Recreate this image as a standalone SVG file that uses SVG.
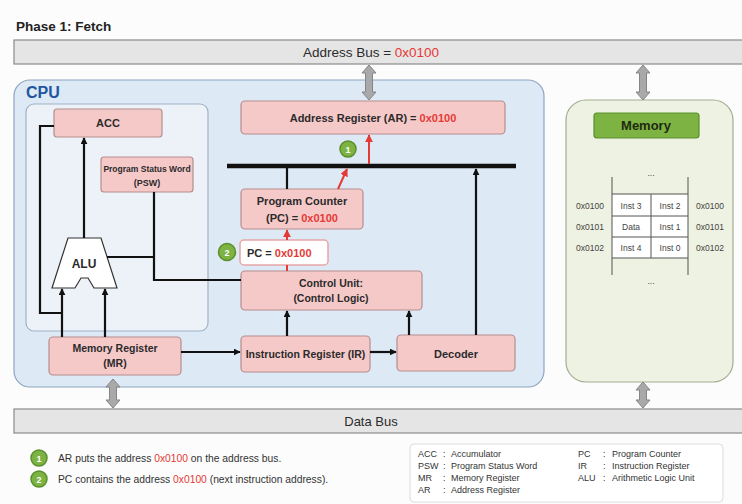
<svg xmlns="http://www.w3.org/2000/svg" width="742" height="504" viewBox="0 0 742 504">
<defs>
<style>
text{font-family:"Liberation Sans",Arial,sans-serif;fill:#2b2b2b}
.t{font-size:10.5px;font-weight:bold;text-anchor:middle}
.r{fill:#e53935}
.box{fill:#f6c9c9;stroke:#b58e8e;stroke-width:1.2}
.bus{fill:#e5e5e5;stroke:#8a8a8a;stroke-width:1.2}
.dbl{fill:#a9a9a9;stroke:#858585;stroke-width:1}
.ln{fill:none;stroke:#111;stroke-width:2.2}
.rl{fill:none;stroke:#e53935;stroke-width:2}
.gc{fill:#7cb342;stroke:#5a8f2c;stroke-width:1.5}
.gt{fill:#fff;font-size:9px;font-weight:bold;text-anchor:middle}
.mem{font-size:8.5px;text-anchor:middle;fill:#444}
.lg{font-size:9px;fill:#333}
</style>
<marker id="ah" viewBox="0 0 10 10" refX="9" refY="5" markerWidth="7" markerHeight="7" markerUnits="userSpaceOnUse" orient="auto"><path d="M0,0 L10,5 L0,10 Z" fill="#111"/></marker>
<marker id="ahr" viewBox="0 0 10 10" refX="9" refY="5" markerWidth="8" markerHeight="8" markerUnits="userSpaceOnUse" orient="auto"><path d="M0,0 L10,5 L0,10 Z" fill="#e53935"/></marker>
</defs>
<rect width="742" height="504" fill="#fcfcfc"/>
<text x="16" y="31" style="font-size:13.5px;font-weight:bold;fill:#222">Phase 1: Fetch</text>

<g id="address-bus">
<rect class="bus" x="14" y="40" width="740" height="24"/>
<text x="371" y="56.5" style="font-size:13.5px;text-anchor:middle">Address Bus = <tspan class="r">0x0100</tspan></text>
</g>

<g id="cpu">
<rect x="14" y="80" width="530" height="307" rx="16" fill="#dde9f5" stroke="#8ea6c0" stroke-width="1.2"/>
<text x="26" y="98" style="font-size:16px;font-weight:bold;fill:#2155a0">CPU</text>
<rect x="26" y="104" width="182" height="227" rx="8" fill="#edf2f8" stroke="#9fb2c8" stroke-width="1.2"/>
</g>

<g id="memory">
<rect x="566" y="100" width="167" height="282" rx="20" fill="#eef2e2" stroke="#a3ad90" stroke-width="1.2"/>
<rect x="594" y="113" width="105" height="25" rx="3" fill="#7cb342" stroke="#5a8f2c" stroke-width="1.2"/>
<text x="646" y="130" style="font-size:13px;font-weight:bold;text-anchor:middle;fill:#1e2a10">Memory</text>
<rect x="612" y="194" width="76" height="64" fill="#fff"/>
<path d="M612,177 V275 M688,177 V275 M612,194 H688 M612,216 H688 M612,237 H688 M612,258 H688 M651,194 V258" fill="none" stroke="#555" stroke-width="1"/>
<text class="mem" x="651" y="176">...</text>
<text class="mem" x="651" y="284">...</text>
<text class="mem" x="631" y="208.5">Inst 3</text><text class="mem" x="670" y="208.5">Inst 2</text>
<text class="mem" x="631" y="229.5">Data</text><text class="mem" x="670" y="229.5">Inst 1</text>
<text class="mem" x="631" y="250.5">Inst 4</text><text class="mem" x="670" y="250.5">Inst 0</text>
<text class="mem" x="590" y="208.5">0x0100</text><text class="mem" x="710" y="208.5">0x0100</text>
<text class="mem" x="590" y="229.5">0x0101</text><text class="mem" x="710" y="229.5">0x0101</text>
<text class="mem" x="590" y="250.5">0x0102</text><text class="mem" x="710" y="250.5">0x0102</text>
</g>

<g id="data-bus">
<rect class="bus" x="14" y="409" width="740" height="24"/>
<text x="371" y="425.5" style="font-size:13px;text-anchor:middle">Data Bus</text>
</g>

<g id="acc"><rect class="box" x="54" y="109" width="108" height="28" rx="3"/><text class="t" x="108" y="127" style="font-size:11px">ACC</text></g>
<g id="psw"><rect class="box" x="101" y="157" width="92" height="35" rx="3"/><text class="t" x="147" y="172" style="font-size:8.5px">Program Status Word</text><text class="t" x="147" y="185.5" style="font-size:9px">(PSW)</text></g>
<g id="alu"><path d="M68,238 L101,238 L117,288 L94,288 L88,278 L81,278 L75,288 L52,288 Z" fill="#fff" stroke="#333" stroke-width="1.2"/><text class="t" x="84" y="268" style="font-size:12px">ALU</text></g>
<g id="ar"><rect class="box" x="241" y="101" width="264" height="33" rx="4"/><text class="t" x="373" y="121.5" style="font-size:11px">Address Register (AR) = <tspan class="r">0x0100</tspan></text></g>
<g id="pc"><rect class="box" x="241" y="189" width="122" height="40" rx="4"/><text class="t" x="302" y="205" style="font-size:11px">Program Counter</text><text class="t" x="302" y="221.5" style="font-size:11px">(PC) = <tspan class="r">0x0100</tspan></text></g>
<g id="pc-value"><rect x="240" y="240" width="88" height="25" rx="4" fill="#fff" stroke="#e8a5a5" stroke-width="1.5"/><text x="247" y="257" style="font-size:11px;font-weight:bold">PC = <tspan class="r">0x0100</tspan></text></g>
<g id="control-unit"><rect class="box" x="241" y="271" width="181" height="39" rx="4"/><text class="t" x="331" y="287">Control Unit:</text><text class="t" x="331" y="302">(Control Logic)</text></g>
<g id="mr"><rect class="box" x="49" y="337" width="132" height="38" rx="4"/><text class="t" x="115" y="352">Memory Register</text><text class="t" x="115" y="367">(MR)</text></g>
<g id="ir"><rect class="box" x="241" y="336" width="129" height="36" rx="4"/><text class="t" x="305.5" y="357.5">Instruction Register (IR)</text></g>
<g id="decoder"><rect class="box" x="397" y="335" width="118" height="36" rx="4"/><text class="t" x="456" y="357.5" style="font-size:11px">Decoder</text></g>

<g id="connectors">
<path class="dbl" d="M369,65 L376,73 L372.5,73 L372.5,92 L376,92 L369,100 L362,92 L365.5,92 L365.5,73 L362,73 Z"/>
<path class="dbl" d="M643,65 L650,73 L646.5,73 L646.5,92 L650,92 L643,100 L636,92 L639.5,92 L639.5,73 L636,73 Z"/>
<path class="dbl" d="M113,379 L120,387 L116.5,387 L116.5,400 L120,400 L113,408 L106,400 L109.5,400 L109.5,387 L106,387 Z"/>
<path class="dbl" d="M643,382 L650,390 L646.5,390 L646.5,400 L650,400 L643,408 L636,400 L639.5,400 L639.5,390 L636,390 Z"/>
<line x1="227" y1="166" x2="516" y2="166" stroke="#111" stroke-width="4.5"/>
<polyline class="ln" points="54,126 40,126 40,313 62,313"/>
<line class="ln" x1="84" y1="238" x2="84" y2="138" marker-end="url(#ah)"/>
<line class="ln" x1="62" y1="337" x2="62" y2="289" marker-end="url(#ah)"/>
<line class="ln" x1="105" y1="337" x2="105" y2="289" marker-end="url(#ah)"/>
<polyline class="ln" points="154,192 154,280 241,280"/>
<line class="ln" x1="107" y1="257" x2="154" y2="257"/>
<line class="ln" x1="181" y1="352" x2="240" y2="352" marker-end="url(#ah)"/>
<line class="ln" x1="370" y1="352" x2="396" y2="352" marker-end="url(#ah)"/>
<line class="ln" x1="287" y1="336" x2="287" y2="311" marker-end="url(#ah)"/>
<line class="ln" x1="409" y1="335" x2="409" y2="311" marker-end="url(#ah)"/>
<line class="ln" x1="476" y1="335" x2="476" y2="169" marker-end="url(#ah)"/>
<line class="ln" x1="287" y1="166" x2="287" y2="189"/>
<line class="rl" x1="369" y1="164" x2="369" y2="135" marker-end="url(#ahr)"/>
<line class="rl" x1="338" y1="189" x2="347" y2="169" marker-end="url(#ahr)"/>
<line class="rl" x1="287" y1="271" x2="287" y2="265"/>
<line class="rl" x1="287" y1="240" x2="287" y2="230" marker-end="url(#ahr)"/>
</g>

<g id="step1-badge"><circle class="gc" cx="348" cy="149" r="8"/><text class="gt" x="348" y="152.5">1</text></g>
<g id="step2-badge"><circle class="gc" cx="227" cy="252" r="8.5"/><text class="gt" x="227" y="255.5">2</text></g>

<g id="notes">
<circle class="gc" cx="39" cy="458" r="8"/><text class="gt" x="39" y="461.5">1</text>
<text class="lg" x="58" y="461.5" style="font-size:10.3px">AR puts the address <tspan class="r">0x0100</tspan> on the address bus.</text>
<circle class="gc" cx="39" cy="479" r="8"/><text class="gt" x="39" y="482.5">2</text>
<text class="lg" x="58" y="482.5" style="font-size:10.3px">PC contains the address <tspan class="r">0x0100</tspan> (next instruction address).</text>
</g>

<g id="legend">
<rect x="410" y="444" width="313" height="58" rx="4" fill="#fff" stroke="#dcdcdc"/>
<text class="lg" x="418" y="457">ACC</text><text class="lg" x="443" y="457">:</text><text class="lg" x="451" y="457">Accumulator</text>
<text class="lg" x="418" y="469">PSW</text><text class="lg" x="443" y="469">:</text><text class="lg" x="451" y="469">Program Status Word</text>
<text class="lg" x="418" y="481">MR</text><text class="lg" x="443" y="481">:</text><text class="lg" x="451" y="481">Memory Register</text>
<text class="lg" x="418" y="493">AR</text><text class="lg" x="443" y="493">:</text><text class="lg" x="451" y="493">Address Register</text>
<text class="lg" x="578" y="457">PC</text><text class="lg" x="603" y="457">:</text><text class="lg" x="612" y="457">Program Counter</text>
<text class="lg" x="578" y="469">IR</text><text class="lg" x="603" y="469">:</text><text class="lg" x="612" y="469">Instruction Register</text>
<text class="lg" x="578" y="481">ALU</text><text class="lg" x="603" y="481">:</text><text class="lg" x="612" y="481">Arithmetic Logic Unit</text>
</g>
</svg>
